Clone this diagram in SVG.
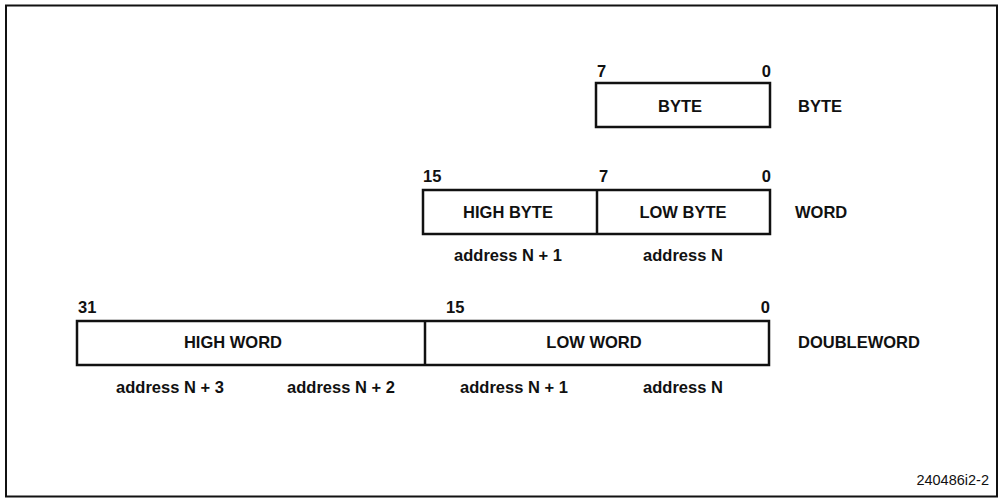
<svg xmlns="http://www.w3.org/2000/svg" width="1000" height="503" viewBox="0 0 1000 503">
<style>
.box{fill:#fff;stroke:#111;stroke-width:2.5}
.div{stroke:#111;stroke-width:2.5}
text{font-family:"Liberation Sans",Arial,sans-serif;fill:#111}
.b{font-weight:bold;font-size:16.5px}
.c{text-anchor:middle}
.e{text-anchor:end}
.id{font-size:14.5px}
</style>
<rect x="0" y="0" width="1000" height="503" fill="#fff"/>
<rect id="frame" x="6" y="5.5" width="991" height="491" fill="none" stroke="#111" stroke-width="2"/>
<g id="byte">
<rect class="box" x="596" y="83" width="174" height="44"/>
<text class="b" x="597" y="77">7</text>
<text class="b e" x="771" y="77">0</text>
<text class="b c" x="680" y="112">BYTE</text>
<text class="b" x="798" y="112">BYTE</text>
</g>
<g id="word">
<rect class="box" x="423" y="190" width="347" height="44"/>
<line class="div" x1="597" y1="190" x2="597" y2="234"/>
<text class="b" x="423" y="182">15</text>
<text class="b" x="599" y="182">7</text>
<text class="b e" x="771" y="182">0</text>
<text class="b c" x="508" y="218">HIGH BYTE</text>
<text class="b c" x="683" y="218">LOW BYTE</text>
<text class="b" x="795" y="218">WORD</text>
<text class="b c" x="508" y="261">address N + 1</text>
<text class="b c" x="683" y="261">address N</text>
</g>
<g id="doubleword">
<rect class="box" x="77" y="321" width="692" height="44"/>
<line class="div" x1="425" y1="321" x2="425" y2="365"/>
<text class="b" x="78" y="313">31</text>
<text class="b" x="446" y="313">15</text>
<text class="b e" x="770" y="313">0</text>
<text class="b c" x="233" y="348">HIGH WORD</text>
<text class="b c" x="594" y="348">LOW WORD</text>
<text class="b" x="798" y="348">DOUBLEWORD</text>
<text class="b c" x="170" y="393">address N + 3</text>
<text class="b c" x="341" y="393">address N + 2</text>
<text class="b c" x="514" y="393">address N + 1</text>
<text class="b c" x="683" y="393">address N</text>
</g>
<g id="connectors"></g>
<text class="id e" x="989" y="485">240486i2-2</text>
</svg>
